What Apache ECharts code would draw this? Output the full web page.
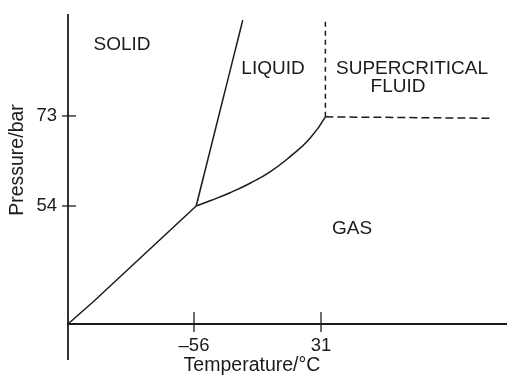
<!DOCTYPE html>
<html>
<head>
<meta charset="utf-8">
<script src="https://cdn.jsdelivr.net/npm/echarts@6/dist/echarts.min.js"></script>
<style>html,body{margin:0;padding:0;background:#fff}#c{width:507px;height:376px}</style>
</head>
<body>
<div id="c"></div>
<script>
// ---- data (temperature °C, pressure bar; schematic phase diagram) ----
const xTickValues = [-56, 31];
const xTickLabels = ['\u201356', '31'];
const yTickValues = [54, 73];
const yTickLabels = ['54', '73'];

const sublimationT = [-142.3, -125.0, -54.5];
const sublimationP = [29.1, 33.8, 54.0];

const meltingT = [-54.5, -22.6];
const meltingP = [54.0, 93.2];

const vaporT = [-54.5, -45.0, -31.3, -17.6, -3.9, 9.8, 23.5, 34.0];
const vaporP = [54.0, 55.1, 56.8, 58.8, 61.2, 64.4, 68.3, 72.8];

const criticalVertT = [34.0, 34.0];
const criticalVertP = [72.8, 93.2];
const criticalHorizT = [34.0, 148.6];
const criticalHorizP = [72.8, 72.5];

const xAxisLineT = [-168.5, 158.4];
const yAxisLineP = [21.5, 94.5];
const originT = -142.3;
const originP = 29.1;

const regionNames = ['SOLID', 'LIQUID', 'SUPERCRITICAL', 'FLUID', 'GAS'];

// ---- build ----
const ink = '#1b1b1b';
const font = '"Liberation Sans", Arial, Helvetica, sans-serif';
const zip = (a, b) => a.map((v, i) => [v, b[i]]);

function lineSeries(data, opts) {
  return Object.assign({
    type: 'line', data: data, symbol: 'none', clip: false, silent: true,
    lineStyle: { color: ink, width: 1.5 }, z: 3
  }, opts || {});
}

const chart = echarts.init(document.getElementById('c'), null, { renderer: 'canvas' });

const regionPos = [
  { x: 122, y: 44.5 }, { x: 273, y: 69 }, { x: 412, y: 68.5 }, { x: 398, y: 86.5 }, { x: 352, y: 229 }
];

chart.setOption({
  animation: false,
  backgroundColor: '#fff',
  grid: { left: 68, right: 0, top: 14, bottom: 52 },
  xAxis: {
    type: 'value', min: originT, max: 158.4,
    axisLine: { show: false }, splitLine: { show: false }, axisTick: { show: false },
    axisLabel: {
      customValues: xTickValues, margin: 12, color: ink, fontSize: 18.5, fontFamily: font,
      formatter: v => xTickLabels[xTickValues.indexOf(v)]
    }
  },
  yAxis: {
    type: 'value', min: originP, max: 94.5,
    axisLine: { show: false }, splitLine: { show: false }, axisTick: { show: false },
    axisLabel: {
      customValues: yTickValues, margin: 11, color: ink, fontSize: 18.5, fontFamily: font,
      formatter: v => yTickLabels[yTickValues.indexOf(v)]
    }
  },
  series: [
    lineSeries(zip(xAxisLineT, [originP, originP]), { lineStyle: { color: ink, width: 1.8 } }),
    lineSeries(zip([originT, originT], yAxisLineP), { lineStyle: { color: ink, width: 1.8 } }),
    lineSeries(zip(sublimationT, sublimationP)),
    lineSeries(zip(meltingT, meltingP)),
    lineSeries(zip(vaporT, vaporP), { smooth: 0.5 }),
    lineSeries(zip(criticalVertT, criticalVertP), { lineStyle: { color: ink, width: 1.5, type: [5, 4] } }),
    lineSeries(zip(criticalHorizT, criticalHorizP), { lineStyle: { color: ink, width: 1.5, type: [8, 4] } }),
    {
      type: 'scatter', silent: true, clip: false, z: 4,
      symbol: 'rect', symbolSize: [1.6, 20], symbolOffset: [0, -2],
      itemStyle: { color: ink },
      data: xTickValues.map(v => [v, originP])
    },
    {
      type: 'scatter', silent: true, clip: false, z: 4,
      symbol: 'rect', symbolSize: [14, 1.6], symbolOffset: [1, 0],
      itemStyle: { color: ink },
      data: yTickValues.map(v => [originT, v])
    }
  ],
  graphic: [
    {
      type: 'text', x: 252, y: 366,
      style: { text: 'Temperature/°C', fill: ink, font: '19.5px ' + font, textAlign: 'center', textVerticalAlign: 'middle' }
    },
    {
      type: 'text', x: 18, y: 160, rotation: Math.PI / 2,
      style: { text: 'Pressure/bar', fill: ink, font: '19.5px ' + font, textAlign: 'center', textVerticalAlign: 'middle' }
    }
  ].concat(regionNames.map((n, i) => ({
    type: 'text', x: regionPos[i].x, y: regionPos[i].y,
    style: { text: n, fill: ink, font: '19px ' + font, textAlign: 'center', textVerticalAlign: 'middle' }
  })))
});
</script>
</body>
</html>
